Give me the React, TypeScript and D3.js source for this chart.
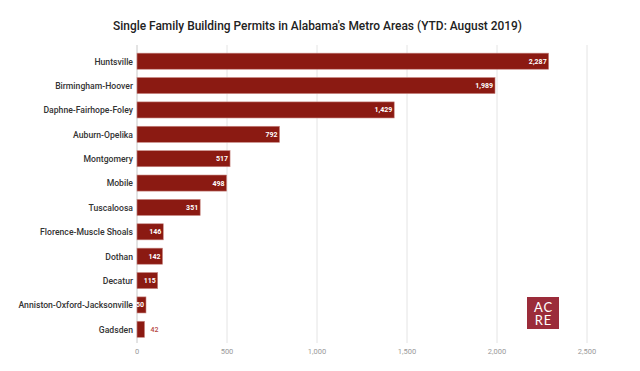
import React from "react";
import * as d3 from "d3";

// metro areas and YTD permits
const metros = [
  "Huntsville",
  "Birmingham-Hoover",
  "Daphne-Fairhope-Foley",
  "Auburn-Opelika",
  "Montgomery",
  "Mobile",
  "Tuscaloosa",
  "Florence-Muscle Shoals",
  "Dothan",
  "Decatur",
  "Anniston-Oxford-Jacksonville",
  "Gadsden",
];
const permits = [2287, 1989, 1429, 792, 517, 498, 351, 146, 142, 115, 50, 42];
const xTicks = [0, 500, 1000, 1500, 2000, 2500];

const title = "Single Family Building Permits in Alabama's Metro Areas (YTD: August 2019)";

export default function App() {
  const ref = React.useRef<SVGSVGElement>(null);

  React.useEffect(() => {
    const width = 640;
    const height = 371;
    const margin = { top: 45, bottom: 28, left: 137, right: 53 };

    const svg = d3.select(ref.current);
    svg.selectAll("*").remove();

    const font = "Roboto, 'Noto Sans', sans-serif";

    // title (the source image is a little squeezed sideways)
    svg.append("text")
      .attr("x", 113)
      .attr("y", 30)
      .attr("font-family", font)
      .attr("font-weight", 500)
      .attr("font-size", 13.5)
      .attr("fill", "#222")
      .attr("textLength", 409)
      .attr("lengthAdjust", "spacingAndGlyphs")
      .text(title);

    const x = d3.scaleLinear().domain([0, 2500]).range([margin.left, width - margin.right]);
    const y = d3
      .scaleBand()
      .domain(metros)
      .range([49, 341.5])
      .paddingInner(0.34)
      .paddingOuter(0.17);

    const data = metros.map((m, i) => ({ name: m, value: permits[i] }));

    // gridlines
    svg.append("g")
      .selectAll("line")
      .data(xTicks)
      .join("line")
      .attr("x1", (d) => x(d))
      .attr("x2", (d) => x(d))
      .attr("y1", margin.top)
      .attr("y2", height - margin.bottom)
      .attr("stroke", (d) => (d === 0 ? "#c8c8c8" : "#e4e4e4"))
      .attr("stroke-width", 1);

    // tick labels
    svg.append("g")
      .selectAll("text")
      .data(xTicks)
      .join("text")
      .attr("x", (d) => x(d))
      .attr("y", 354)
      .attr("text-anchor", "middle")
      .attr("font-family", font)
      .attr("font-size", 7.5)
      .attr("fill", "#999")
      .text((d) => d3.format(",")(d));

    // category labels
    svg.append("g")
      .attr("transform", "translate(133,0) scale(0.91,1)")
      .selectAll("text")
      .data(data)
      .join("text")
      .attr("x", 0)
      .attr("y", (d) => y(d.name)! + y.bandwidth() / 2)
      .attr("dy", "0.35em")
      .attr("text-anchor", "end")
      .attr("font-family", font)
      .attr("font-weight", 500)
      .attr("font-size", 9.5)
      .attr("fill", "#333")
      .text((d) => d.name);

    // bars
    svg.append("g")
      .selectAll("rect")
      .data(data)
      .join("rect")
      .attr("x", x(0))
      .attr("y", (d) => y(d.name)!)
      .attr("width", (d) => x(d.value) - x(0))
      .attr("height", y.bandwidth())
      .attr("fill", "#8b1a12")
      .attr("stroke", "#c98a85")
      .attr("stroke-width", 0.6);

    // value labels
    svg.append("g")
      .selectAll("text")
      .data(data)
      .join("text")
      .attr("x", (d) => (d.value < 45 ? x(d.value) + 6 : x(d.value) - 2))
      .attr("y", (d) => y(d.name)! + y.bandwidth() / 2)
      .attr("dy", "0.35em")
      .attr("text-anchor", (d) => (d.value < 45 ? "start" : "end"))
      .attr("font-family", font)
      .attr("font-weight", (d) => (d.value < 45 ? 500 : 700))
      .attr("font-size", 7)
      .attr("fill", (d) => (d.value < 45 ? "#b5473f" : "#fff"))
      .text((d) => d3.format(",")(d.value));

    // ACRE logo
    const logo = svg.append("g").attr("transform", "translate(527,297)");
    logo.append("rect").attr("width", 32).attr("height", 32).attr("fill", "#9b2c3a");
    logo.selectAll("text")
      .data(["AC", "RE"])
      .join("text")
      .attr("x", 16.5)
      .attr("y", (d, i) => 15 + i * 12.5)
      .attr("text-anchor", "middle")
      .attr("font-family", "Lato, sans-serif")
      .attr("font-size", 13)
      .attr("letter-spacing", 1)
      .attr("fill", "#fff")
      .text((d) => d);
  }, []);

  return (
    <svg
      ref={ref}
      width={640}
      height={371}
      style={{ position: "absolute", left: 0, top: 0, background: "#fff" }}
    />
  );
}
